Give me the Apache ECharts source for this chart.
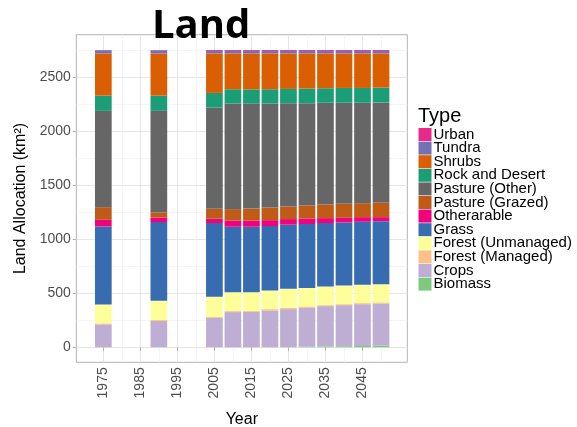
<!DOCTYPE html>
<html>
<head>
<meta charset="utf-8">
<script src="https://cdn.jsdelivr.net/npm/echarts@6/dist/echarts.min.js"></script>
<style>
html,body{margin:0;padding:0;background:#fff;}
#chart{width:577px;height:427px;}
</style>
</head>
<body>
<div id="chart"></div>
<script>
const years = [1975, 1990, 2005, 2010, 2015, 2020, 2025, 2030, 2035, 2040, 2045, 2050];
const biomass         = [0, 0, 0, 0, 0, 0, 2, 5, 8, 10, 12, 15];
const crops           = [212, 243, 273, 326, 328, 341, 351, 361, 373, 380, 387, 387];
const forestManaged   = [9, 9, 10, 9, 9, 12, 13, 12, 9, 9, 10, 13];
const forestUnmanaged = [175, 178, 184, 175, 173, 173, 175, 172, 173, 173, 169, 169];
const grass           = [723, 729, 683, 606, 606, 596, 594, 591, 587, 584, 584, 584];
const otherarable     = [61, 43, 40, 58, 58, 55, 52, 52, 46, 43, 43, 37];
const pastureGrazed   = [117, 46, 92, 105, 110, 117, 116, 120, 126, 129, 129, 132];
const pastureOther    = [892, 941, 938, 978, 972, 963, 957, 947, 942, 936, 930, 930];
const rockDesert      = [141, 141, 135, 132, 132, 132, 132, 135, 134, 137, 137, 137];
const shrubs          = [390, 390, 365, 331, 331, 331, 328, 325, 322, 319, 319, 316];
const tundra          = [30, 30, 24, 24, 24, 24, 24, 24, 24, 24, 24, 24];
const urban           = [2, 2, 8, 8, 8, 8, 8, 8, 8, 8, 8, 8];

const xTickLabels = [1975, 1985, 1995, 2005, 2015, 2025, 2035, 2045];
const xMinorGrid = [1980, 1990, 2000, 2010, 2020, 2030, 2040, 2050];
const yTickLabels = [0, 500, 1000, 1500, 2000, 2500];
const yMinorGrid = [250, 750, 1250, 1750, 2250, 2750];

const seriesDefs = [
  ['Biomass', biomass, '#7fc97f'],
  ['Crops', crops, '#beaed4'],
  ['Forest (Managed)', forestManaged, '#fdc086'],
  ['Forest (Unmanaged)', forestUnmanaged, '#ffff99'],
  ['Grass', grass, '#386cb0'],
  ['Otherarable', otherarable, '#f0027f'],
  ['Pasture (Grazed)', pastureGrazed, '#bf5b17'],
  ['Pasture (Other)', pastureOther, '#666666'],
  ['Rock and Desert', rockDesert, '#1b9e77'],
  ['Shrubs', shrubs, '#d95f02'],
  ['Tundra', tundra, '#7570b3'],
  ['Urban', urban, '#e7298a']
];

const font = 'Liberation Sans, Arial, sans-serif';
const chart = echarts.init(document.getElementById('chart'), null, {renderer: 'canvas'});

// value first, year second: so the stacked dimension is the y (value) one
const series = seriesDefs.map(function (d) {
  return {
    name: d[0],
    type: 'bar',
    stack: 'land',
    xAxisIndex: 0,
    yAxisIndex: 0,
    barWidth: 16.7,
    encode: {x: 1, y: 0},
    itemStyle: {color: d[2]},
    emphasis: {disabled: true},
    data: years.map(function (y, i) { return [d[1][i], y]; })
  };
});

const xMin = 1967.7, xMax = 2057.1, yMin = -139, yMax = 2894;

chart.setOption({
  animation: false,
  backgroundColor: '#ffffff',
  title: [
    {text: 'Land', left: 152, top: 7, padding: 0,
     textStyle: {fontFamily: 'Open Sans', fontWeight: 'bold', fontSize: 40, color: '#000'}},
    {text: 'Type', left: 418, top: 106, padding: 0,
     textStyle: {fontFamily: font, fontWeight: 'normal', fontSize: 20, color: '#000'}}
  ],
  legend: {
    orient: 'vertical',
    left: 418.5,
    top: 127,
    padding: 0,
    itemWidth: 13,
    itemHeight: 13,
    itemGap: -1.4,
    icon: 'rect',
    selectedMode: false,
    textStyle: {fontFamily: font, fontSize: 15, color: '#000', lineHeight: 13, padding: [0, 0, 0, -3]},
    data: seriesDefs.slice().reverse().map(function (d) { return d[0]; })
  },
  grid: {
    left: 76.3, right: 577 - 407.3, top: 34.7, bottom: 427 - 362.3,
    outerBoundsMode: 'none', containLabel: false,
    show: true, borderColor: '#b3b3b3', borderWidth: 1, backgroundColor: '#fff'
  },
  xAxis: [
    {
      type: 'value', min: xMin, max: xMax,
      name: 'Year', nameLocation: 'middle', nameGap: 49,
      nameTextStyle: {fontFamily: font, fontSize: 16, color: '#000'},
      axisLine: {show: false},
      axisTick: {show: true, length: 3.7, lineStyle: {color: '#b3b3b3'}, customValues: xTickLabels},
      axisLabel: {show: true, rotate: 90, margin: 5, fontFamily: font, fontSize: 14, color: '#4d4d4d',
                  customValues: xTickLabels, formatter: function (v) { return String(v); }},
      splitLine: {show: true, lineStyle: {color: '#e6e6e6', width: 1}}
    },
    {
      type: 'value', min: xMin, max: xMax, position: 'bottom',
      axisLine: {show: false},
      axisTick: {show: false, customValues: xMinorGrid},
      axisLabel: {show: false, customValues: xMinorGrid},
      splitLine: {show: true, lineStyle: {color: '#f0f0f0', width: 0.7}}
    }
  ],
  yAxis: [
    {
      type: 'value', min: yMin, max: yMax,
      name: 'Land Allocation (km²)', nameLocation: 'middle', nameGap: 48, nameRotate: 90,
      nameTextStyle: {fontFamily: font, fontSize: 16, color: '#000'},
      axisLine: {show: false},
      axisTick: {show: true, length: 3.7, lineStyle: {color: '#b3b3b3'}, customValues: yTickLabels},
      axisLabel: {show: true, margin: 5.5, fontFamily: font, fontSize: 14, color: '#4d4d4d',
                  customValues: yTickLabels, formatter: function (v) { return String(v); }},
      splitLine: {show: true, lineStyle: {color: '#e6e6e6', width: 1}}
    },
    {
      type: 'value', min: yMin, max: yMax, position: 'left',
      axisLine: {show: false},
      axisTick: {show: false, customValues: yMinorGrid},
      axisLabel: {show: false, customValues: yMinorGrid},
      splitLine: {show: true, lineStyle: {color: '#f0f0f0', width: 0.7}}
    }
  ],
  series: series
});
</script>
</body>
</html>
